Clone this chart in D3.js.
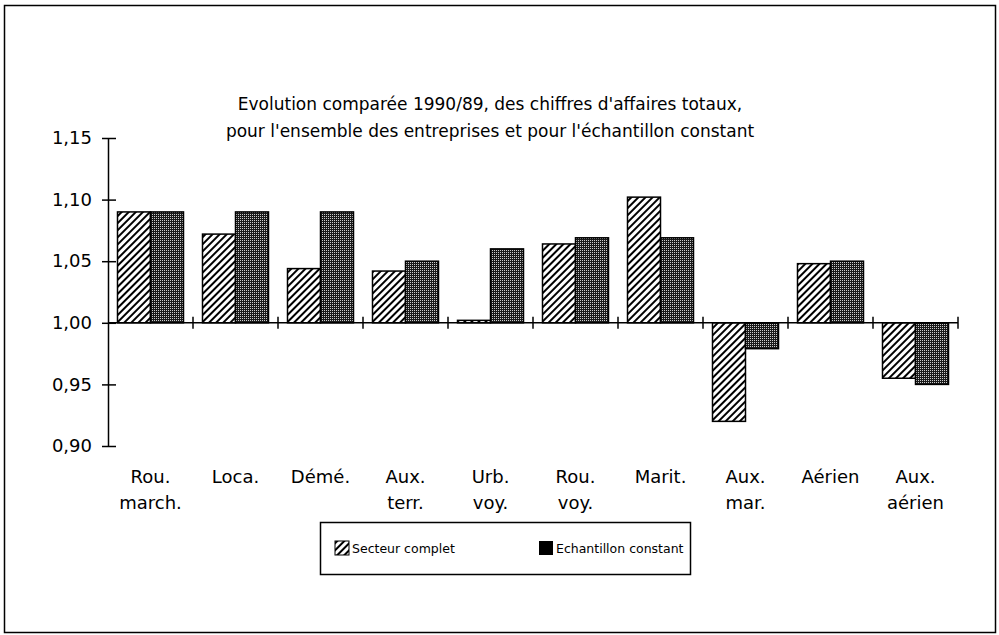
<!DOCTYPE html>
<html><head><meta charset="utf-8">
<script src="https://cdn.jsdelivr.net/npm/d3@7"></script>
<style>body{margin:0;background:#fff}svg{display:block}text{font-family:"DejaVu Sans","Liberation Sans",Arial,sans-serif;fill:#000}</style>
</head><body>
<svg id="c" width="999" height="635"></svg>
<script>
const categories = [["Rou.","march."],["Loca."],["Démé."],["Aux.","terr."],["Urb.","voy."],["Rou.","voy."],["Marit."],["Aux.","mar."],["Aérien"],["Aux.","aérien"]];
const seriesNames = ["Secteur complet","Echantillon constant"];
const secteurComplet = [1.09,1.072,1.044,1.042,1.002,1.064,1.102,0.92,1.048,0.955];
const echantillonConstant = [1.09,1.09,1.09,1.05,1.06,1.069,1.069,0.979,1.05,0.95];
const yTicks = [0.90,0.95,1.00,1.05,1.10,1.15];
const titleLines = ["Evolution comparée 1990/89, des chiffres d'affaires totaux,","pour l'ensemble des entreprises et pour l'échantillon constant"];

const FONT = '"DejaVu Sans","Liberation Sans",Arial,sans-serif';
const svg = d3.select("#c");
const defs = svg.append("defs");
const hp = defs.append("pattern").attr("id","hatch").attr("patternUnits","userSpaceOnUse")
  .attr("width",5).attr("height",5).attr("patternTransform","rotate(45)");
hp.append("rect").attr("width",5).attr("height",5).attr("fill","#fff");
hp.append("rect").attr("x",0).attr("y",0).attr("width",2).attr("height",5).attr("fill","#000");
const dp = defs.append("pattern").attr("id","dots").attr("patternUnits","userSpaceOnUse")
  .attr("width",2).attr("height",2);
dp.append("rect").attr("width",2).attr("height",2).attr("fill","#1a1a1a");
dp.append("rect").attr("x",0).attr("y",0).attr("width",1).attr("height",1).attr("fill","#ccc");

// outer frame
svg.append("rect").attr("x",4.5).attr("y",5.5).attr("width",991).attr("height",627)
  .attr("fill","none").attr("stroke","#000").attr("stroke-width",1.5);

const keys = categories.map(c=>c.join(" "));
const y = d3.scaleLinear().domain([0.90,1.15]).range([446,138]);
const x0 = d3.scaleBand().domain(keys).range([108,958]).padding(0);
const x1 = d3.scaleBand().domain(seriesNames).range([9.5, x0.bandwidth()-9.5]).padding(0);
const fills = ["url(#hatch)","url(#dots)"];
const data = keys.map((k,i)=>({k, vals:[secteurComplet[i], echantillonConstant[i]]}));

// title
svg.append("g").selectAll("text").data(titleLines).join("text")
  .attr("x",490).attr("y",(d,i)=>110+i*27).attr("text-anchor","middle")
  .attr("font-size",17).text(d=>d);

// bars
const g = svg.append("g");
data.forEach(d=>{
  d.vals.forEach((v,j)=>{
    g.append("rect")
      .attr("x", x0(d.k)+x1(seriesNames[j]))
      .attr("y", y(Math.max(v,1)))
      .attr("width", x1.bandwidth())
      .attr("height", Math.abs(y(v)-y(1)))
      .attr("fill", fills[j]).attr("stroke","#000").attr("stroke-width",1.5);
  });
});

// y axis
const yAxis = d3.axisLeft(y).tickValues(yTicks).tickSize(0)
  .tickFormat(d=>d3.format(".2f")(d).replace(".",","));
const ya = svg.append("g").attr("transform","translate(108,0)").call(yAxis);
ya.select(".domain").attr("stroke","#000").attr("stroke-width",1.5);
ya.selectAll(".tick line").remove();
ya.selectAll(".tick").append("line").attr("x1",-6).attr("x2",8).attr("stroke","#000").attr("stroke-width",1.5);
ya.selectAll(".tick text").attr("x",-16).attr("font-size",18).attr("font-family",FONT);

// x axis at 1.00
const xb = svg.append("g");
xb.append("line").attr("x1",108).attr("x2",958).attr("y1",y(1)).attr("y2",y(1)).attr("stroke","#000").attr("stroke-width",1.5);
xb.selectAll("line.t").data(keys.slice(1).concat(["__end"])).join("line").attr("class","t")
  .attr("x1",d=>d==="__end"?958:x0(d)).attr("x2",d=>d==="__end"?958:x0(d))
  .attr("y1",y(1)-6).attr("y2",y(1)+6).attr("stroke","#000").attr("stroke-width",1.5);

// category labels
const lab = svg.append("g");
categories.forEach((c,i)=>{
  c.forEach((t,j)=>{
    lab.append("text").attr("x",x0(keys[i])+x0.bandwidth()/2).attr("y",483+j*26)
      .attr("text-anchor","middle").attr("font-size",18).text(t);
  });
});

// legend
const lg = svg.append("g");
lg.append("rect").attr("x",320.5).attr("y",522.5).attr("width",370).attr("height",52)
  .attr("fill","#fff").attr("stroke","#000").attr("stroke-width",1.5);
lg.append("rect").attr("x",335).attr("y",541).attr("width",14).attr("height",14).attr("fill","url(#hatch)").attr("stroke","#000").attr("stroke-width",1);
lg.append("text").attr("x",352).attr("y",553).attr("font-size",12.5).text(seriesNames[0]);
lg.append("rect").attr("x",539).attr("y",541).attr("width",14).attr("height",14).attr("fill","#000");
lg.append("text").attr("x",556).attr("y",553).attr("font-size",12.5).text(seriesNames[1]);
</script>
</body></html>
